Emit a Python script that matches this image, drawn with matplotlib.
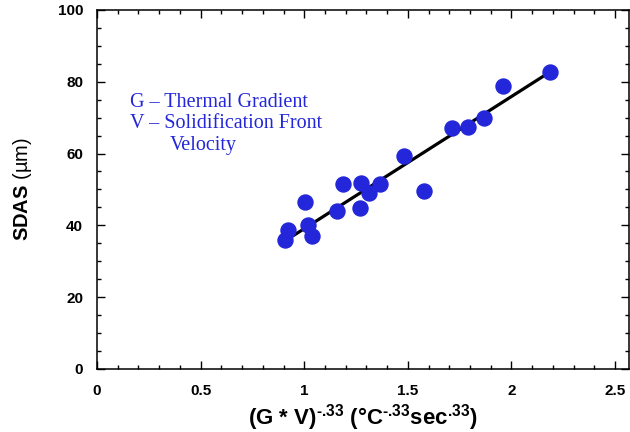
import matplotlib.pyplot as plt
from matplotlib.ticker import MultipleLocator

# values
gv = [0.907, 0.921, 1.003, 1.018, 1.037, 1.158, 1.187, 1.269, 1.274, 1.312,
      1.365, 1.481, 1.577, 1.712, 1.790, 1.867, 1.959, 2.185]
sdas = [35.9, 38.6, 46.4, 40.2, 37.0, 44.0, 51.5, 44.9, 51.8, 49.0,
        51.4, 59.4, 49.7, 67.0, 67.3, 69.9, 78.9, 82.8]
fit_x = [0.93, 2.15]
fit_y = [36.5, 81.4]

note_lines = ["G \u2013 Thermal Gradient", "V \u2013 Solidification Front", "Velocity"]

plt.rcParams["font.family"] = ["Liberation Sans", "DejaVu Sans"]
plt.rcParams["mathtext.fontset"] = "custom"
plt.rcParams["mathtext.rm"] = "Liberation Sans:bold"
plt.rcParams["mathtext.bf"] = "Liberation Sans:bold"

fig = plt.figure(figsize=(6.3, 4.32), dpi=100)
ax = fig.add_axes([0.154, 0.146, 0.844, 0.831])

blue = "#2326d9"
ax.plot(fit_x, fit_y, color="black", lw=2.3, zorder=2)
ax.plot(gv, sdas, "o", color=blue, ms=10.8, mec=blue, zorder=3)

ax.set_xlim(0, 2.566)
ax.set_ylim(0, 100)
ax.xaxis.set_major_locator(MultipleLocator(0.5))
ax.xaxis.set_minor_locator(MultipleLocator(0.1))
ax.yaxis.set_major_locator(MultipleLocator(20))
ax.yaxis.set_minor_locator(MultipleLocator(5))
ax.set_xticks([0, 0.5, 1, 1.5, 2, 2.5], ["0", "0.5", "1", "1.5", "2", "2.5"])
ax.tick_params(which="both", direction="in", top=True, right=True, width=1.0)
ax.tick_params(which="major", length=5.5, labelsize=11)
ax.tick_params(axis="x", which="major", pad=11)
ax.tick_params(axis="y", which="major", pad=10)
ax.tick_params(which="minor", length=3)
for lab in ax.get_xticklabels() + ax.get_yticklabels():
    lab.set_fontweight("bold")
for sp in ax.spines.values():
    sp.set_linewidth(1.1)

ax.set_xlabel(r"(G * V)$^{\text{-.33}}$ (°C$^{\text{-.33}}$sec$^{\text{.33}}$)",
              fontsize=16, fontweight="bold", labelpad=3)
ax.set_ylabel(r"$\mathbf{SDAS}$ (µm)", fontsize=14.5, labelpad=17)

serif = ["Liberation Serif", "DejaVu Serif"]
note_x = [0.062, 0.062, 0.137]
note_y = [0.731, 0.671, 0.610]
for txt, tx, ty in zip(note_lines, note_x, note_y):
    ax.text(tx, ty, txt, transform=ax.transAxes, family=serif, fontsize=14.5,
            color=blue, va="baseline", ha="left")

fig.savefig("out.png", dpi=100)
